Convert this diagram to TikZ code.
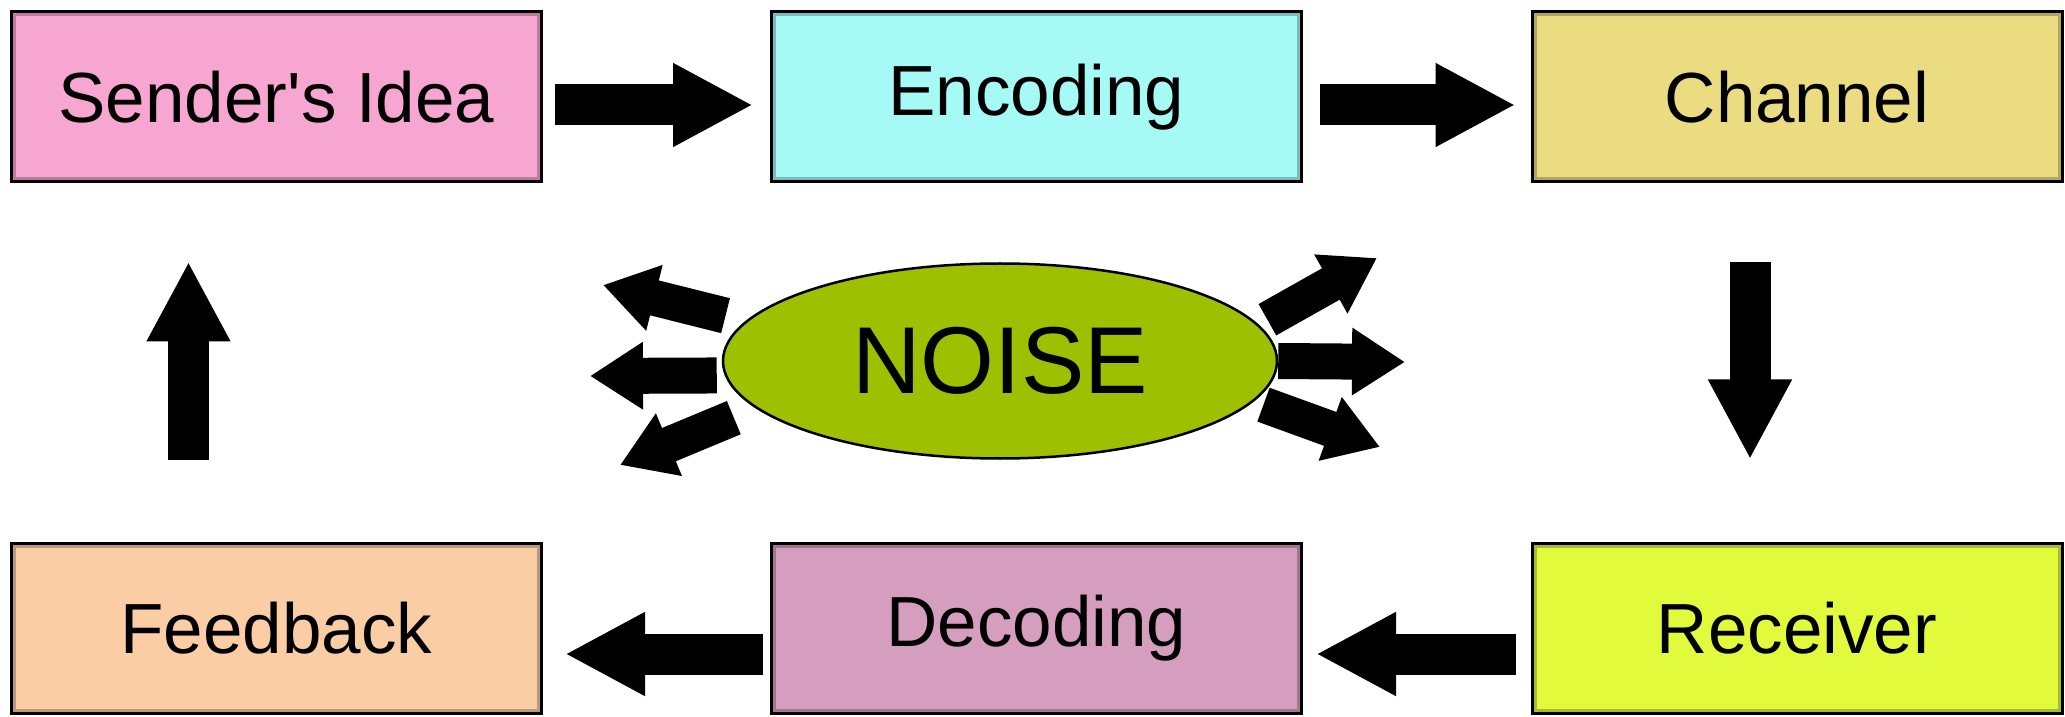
\documentclass[tikz,border=0pt]{standalone}
\usepackage{fontspec}
\setmainfont{Liberation Sans}[Ligatures=TeXOff]
\usetikzlibrary{arrows.meta,shapes.geometric}
\definecolor{ideapink}{RGB}{246,166,208}
\definecolor{encodecyan}{RGB}{166,250,246}
\definecolor{channelsand}{RGB}{235,220,130}
\definecolor{receivelime}{RGB}{225,250,60}
\definecolor{decodemauve}{RGB}{213,158,190}
\definecolor{feedpeach}{RGB}{250,205,165}
\definecolor{noiseolive}{RGB}{158,192,0}
\begin{document}
\begin{tikzpicture}[x=1pt,y=1pt,line join=miter,
		box/.style={draw=black,line width=3pt,fill=#1,minimum width=530pt,minimum height=170pt,inner sep=0pt,font=\fontsize{71}{80}\selectfont,
			path picture={\draw[#1!75!black,line width=9pt] (path picture bounding box.south west) rectangle (path picture bounding box.north east);}},
		bigarrow/.style={line width=41pt,-{Triangle[width=78pt,length=80pt]}},
		noisearrow/.style={line width=36pt,-{Triangle[width=64pt,length=53pt]}}]
	\useasboundingbox (0,0) rectangle (2065,716);
	\node[box=ideapink] (idea) at (276.5,619) {Sender\textquotesingle s Idea};
	\node[box=encodecyan] (encoding) at (1036.5,619) {Encoding};
	\node[box=channelsand] (channel) at (1797,619) {Channel};
	\node[box=feedpeach] (feedback) at (276.5,88) {Feedback};
	\node[box=decodemauve] (decoding) at (1036.5,88) {Decoding};
	\node[box=receivelime] (receiver) at (1797,88) {Receiver};
	\draw[bigarrow,shorten <=12pt,shorten >=17pt] ([yshift=-8pt]idea.east) -- ([yshift=-8pt]encoding.west);
	\draw[bigarrow,shorten <=17pt,shorten >=15pt] ([yshift=-8pt]encoding.east) -- ([yshift=-8pt]channel.west);
	\draw[bigarrow,shorten <=79pt,shorten >=82pt] ([xshift=-47pt]channel.south) -- ([xshift=-47pt]receiver.north);
	\draw[bigarrow,shorten <=15pt,shorten >=13pt] ([yshift=-26pt]receiver.west) -- ([yshift=-26pt]decoding.east);
	\draw[bigarrow,shorten <=7pt,shorten >=22pt] ([yshift=-26pt]decoding.west) -- ([yshift=-26pt]feedback.east);
	\draw[bigarrow,shorten <=82pt,shorten >=78pt] ([xshift=-88pt]feedback.north) -- ([xshift=-88pt]idea.south);
	% noise in the middle
	\node[ellipse,draw=black,line width=2.5pt,fill=noiseolive,minimum width=554pt,minimum height=195pt,inner sep=0pt,font=\fontsize{95}{100}\selectfont] (noise) at (1000,355) {NOISE};
	\coordinate (tipul) at (603,431); \coordinate (tipml) at (590,340); \coordinate (tipll) at (620,251);
	\coordinate (tipur) at (1377,458); \coordinate (tipmr) at (1405,354); \coordinate (tiplr) at (1380,269);
	\foreach \ang/\gap/\tip in {171/21/tipul,183/8/tipml,191/24/tipll,8/10/tipur,0/0/tipmr,351/10/tiplr}
		\draw[noisearrow,shorten <=\gap pt] (noise.\ang) -- (\tip);
\end{tikzpicture}
\end{document}
